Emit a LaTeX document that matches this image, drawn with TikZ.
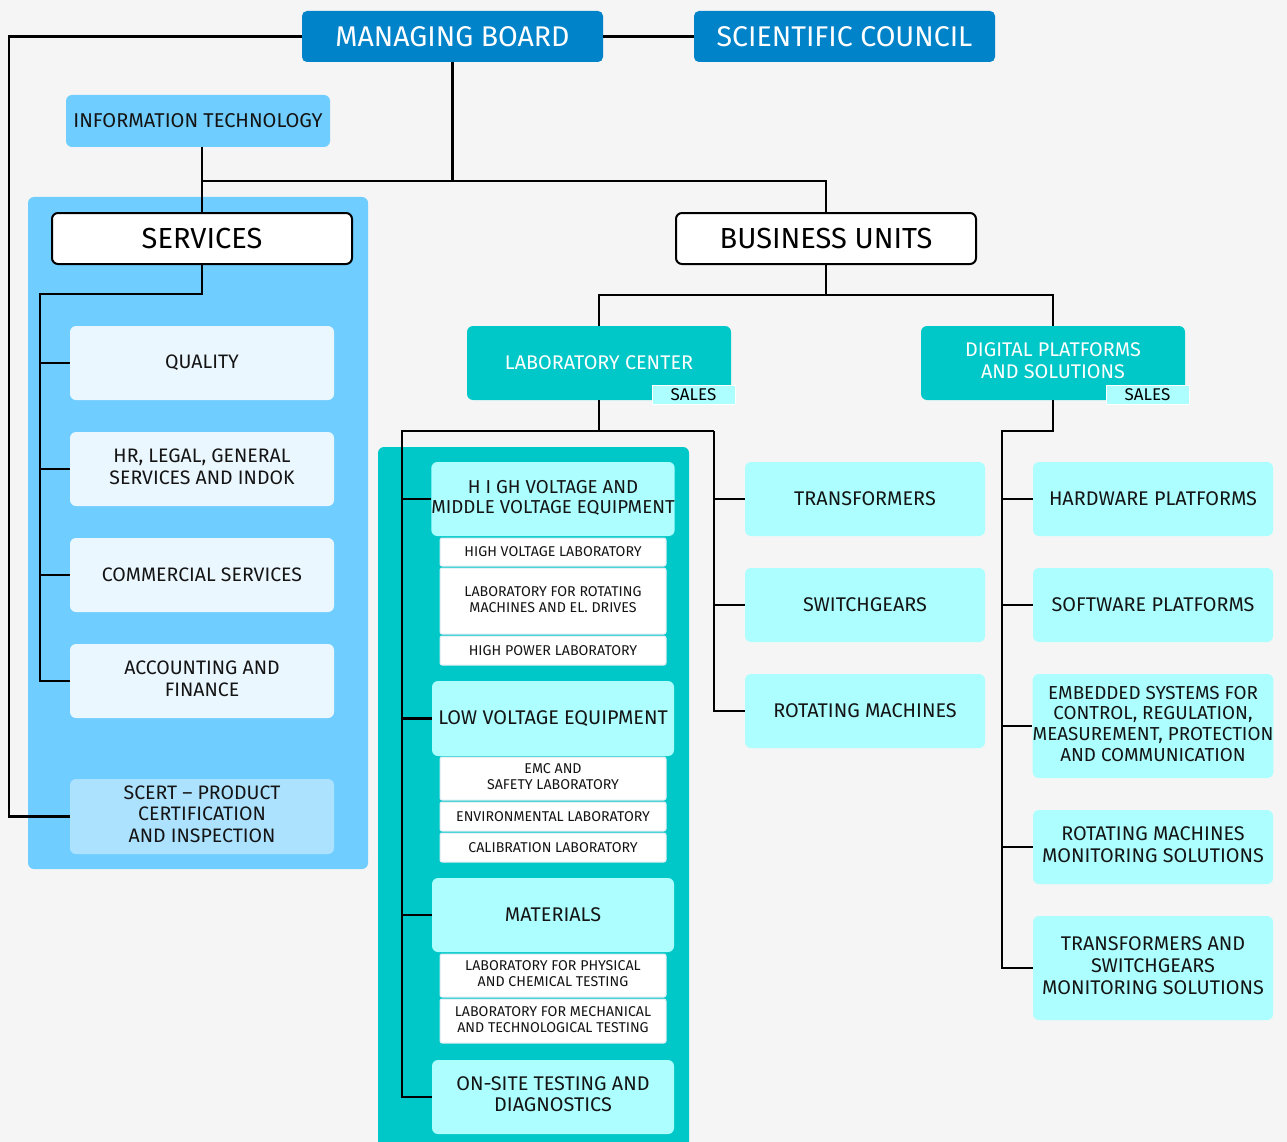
\documentclass[tikz,border=0pt]{standalone}
\usepackage{fontspec}
\setmainfont{Fira Sans}
\usetikzlibrary{positioning}

\definecolor{PageGrey}{HTML}{F5F5F5}
\definecolor{BoardBlue}{HTML}{0083C9}
\definecolor{PanelBlue}{HTML}{70CDFF}
\definecolor{PaleBlue}{HTML}{EBF7FF}
\definecolor{CertBlue}{HTML}{ADE2FF}
\definecolor{LabTeal}{HTML}{00C8C8}
\definecolor{PaleCyan}{HTML}{ADFFFF}
\definecolor{LabEdge}{HTML}{DCEAF2}
\definecolor{InkBlack}{HTML}{141414}

\tikzset
{
  BoardNodeStyle/.style =
  {
    shape = rectangle,
    rounded corners = 5pt,
    fill = BoardBlue,
    text = white,
    inner sep = 0pt,
    minimum width = 301pt,
    minimum height = 51pt,
    font = \fontsize{28.5}{32}\selectfont,
  },
  UnitHeadStyle/.style =
  {
    shape = rectangle,
    rounded corners = 6pt,
    fill = white,
    draw = black,
    line width = 2pt,
    inner sep = 0pt,
    minimum width = 300pt,
    minimum height = 51pt,
    font = \fontsize{29}{32}\selectfont,
  },
  ServiceNodeStyle/.style =
  {
    shape = rectangle,
    rounded corners = 6pt,
    fill = PaleBlue,
    text = InkBlack,
    inner sep = 0pt,
    minimum width = 264pt,
    minimum height = 74pt,
    font = \fontsize{19.5}{21.5}\selectfont,
  },
  LabHeadStyle/.style =
  {
    shape = rectangle,
    rounded corners = 6pt,
    fill = LabTeal,
    text = white,
    inner sep = 0pt,
    minimum width = 264pt,
    minimum height = 74pt,
    font = \fontsize{19.8}{22}\selectfont,
  },
  SalesTagStyle/.style =
  {
    shape = rectangle,
    fill = PaleCyan,
    draw = white,
    line width = 1pt,
    inner sep = 0pt,
    minimum width = 83pt,
    minimum height = 19pt,
    font = \fontsize{17}{18}\selectfont,
  },
  GroupNodeStyle/.style =
  {
    shape = rectangle,
    rounded corners = 6pt,
    fill = PaleCyan,
    text = InkBlack,
    inner sep = 0pt,
    minimum width = 242pt,
    minimum height = 74pt,
    font = \fontsize{19.8}{21}\selectfont,
  },
  UnitNodeStyle/.style =
  {
    GroupNodeStyle,
    minimum width = 240pt,
  },
  LabNodeStyle/.style =
  {
    shape = rectangle,
    rounded corners = 2pt,
    fill = white,
    draw = LabEdge,
    line width = 1pt,
    text = InkBlack,
    inner sep = 0pt,
    minimum width = 226pt,
    font = \fontsize{14.2}{16}\selectfont,
  },
  BranchLine/.style =
  {
    draw = black,
    line width = 2.2pt,
  },
}

\begin{document}
\begin{tikzpicture}[x=1pt, y=-1pt]
  \fill[PageGrey] (0,0) rectangle (1287,1142);
  \useasboundingbox (0,0) rectangle (1287,1142);

  % panels behind the groups
  \fill[PanelBlue, rounded corners=6pt] (28,197) rectangle (368,869);
  \fill[LabTeal] (378,1142) [rounded corners=6pt] -- (378,447) -- (689,447) [sharp corners] -- (689,1142) -- cycle;

  % top level
  \node[BoardNodeStyle] (board) at (452.5,36.5) {MANAGING BOARD};
  \node[BoardNodeStyle] (council) at (844.5,36.5) {SCIENTIFIC COUNCIL};
  \node[ServiceNodeStyle, fill=PanelBlue, minimum height=52pt, font=\fontsize{20}{22}\selectfont] (infotech) at (198,121) {INFORMATION TECHNOLOGY};
  \node[UnitHeadStyle] (services) at (202,238.5) {SERVICES};
  \node[UnitHeadStyle] (business) at (826,238.5) {BUSINESS UNITS};

  % services
  \node[ServiceNodeStyle] (quality) at (202,363) {QUALITY};
  \node[ServiceNodeStyle] (hrlegal) at (202,469) {
    \begin{tabular}{@{}c@{}}
    HR, LEGAL, GENERAL \\
    SERVICES AND INDOK \\
    \end{tabular}
  };
  \node[ServiceNodeStyle] (commercial) at (202,575) {COMMERCIAL SERVICES};
  \node[ServiceNodeStyle] (accounting) at (202,681) {
    \begin{tabular}{@{}c@{}}
    ACCOUNTING AND \\
    FINANCE \\
    \end{tabular}
  };
  \node[ServiceNodeStyle, fill=CertBlue, minimum height=75pt] (scert) at (202,816.5) {
    \begin{tabular}{@{}c@{}}
    SCERT -- PRODUCT \\
    CERTIFICATION \\
    AND INSPECTION \\
    \end{tabular}
  };

  % business units
  \node[LabHeadStyle] (labcenter) at (599,363) {LABORATORY CENTER};
  \node[SalesTagStyle] (labsales) at (693.5,394.5) {SALES};
  \node[LabHeadStyle] (digital) at (1053,363) {
    \begin{tabular}{@{}c@{}}
    DIGITAL PLATFORMS \\
    AND SOLUTIONS \\
    \end{tabular}
  };
  \node[SalesTagStyle] (digsales) at (1147.5,394.5) {SALES};

  % laboratory center
  \node[GroupNodeStyle, font=\fontsize{18.7}{20}\selectfont] (highvolt) at (553,499) {
    \begin{tabular}{@{}c@{}}
    H I GH VOLTAGE AND \\
    MIDDLE VOLTAGE EQUIPMENT \\
    \end{tabular}
  };
  \node[LabNodeStyle, minimum height=28pt] (hvlab) at (553,552) {HIGH VOLTAGE LABORATORY};
  \node[LabNodeStyle, minimum height=66pt] (rotlab) at (553,601) {
    \begin{tabular}{@{}c@{}}
    LABORATORY FOR ROTATING \\
    MACHINES AND EL. DRIVES \\
    \end{tabular}
  };
  \node[LabNodeStyle, minimum height=29pt] (powerlab) at (553,650.5) {HIGH POWER LABORATORY};

  \node[GroupNodeStyle, minimum height=75pt] (lowvolt) at (553,718.5) {LOW VOLTAGE EQUIPMENT};
  \node[LabNodeStyle, minimum height=43pt] (emclab) at (553,778.5) {
    \begin{tabular}{@{}c@{}}
    EMC AND \\
    SAFETY LABORATORY \\
    \end{tabular}
  };
  \node[LabNodeStyle, minimum height=29pt] (envlab) at (553,816.5) {ENVIRONMENTAL LABORATORY};
  \node[LabNodeStyle, minimum height=29pt] (callab) at (553,847.5) {CALIBRATION LABORATORY};

  \node[GroupNodeStyle] (materials) at (553,915) {MATERIALS};
  \node[LabNodeStyle, minimum height=43pt] (physlab) at (553,975.5) {
    \begin{tabular}{@{}c@{}}
    LABORATORY FOR PHYSICAL \\
    AND CHEMICAL TESTING \\
    \end{tabular}
  };
  \node[LabNodeStyle, minimum height=44pt] (mechlab) at (553,1021) {
    \begin{tabular}{@{}c@{}}
    LABORATORY FOR MECHANICAL \\
    AND TECHNOLOGICAL TESTING \\
    \end{tabular}
  };

  \node[GroupNodeStyle] (onsite) at (553,1097) {
    \begin{tabular}{@{}c@{}}
    ON-SITE TESTING AND \\
    DIAGNOSTICS \\
    \end{tabular}
  };

  \node[UnitNodeStyle] (transformers) at (865,499) {TRANSFORMERS};
  \node[UnitNodeStyle] (switchgears) at (865,605) {SWITCHGEARS};
  \node[UnitNodeStyle] (rotating) at (865,711) {ROTATING MACHINES};

  % digital platforms
  \node[UnitNodeStyle] (hardware) at (1153,499) {HARDWARE PLATFORMS};
  \node[UnitNodeStyle] (software) at (1153,605) {SOFTWARE PLATFORMS};
  \node[UnitNodeStyle, minimum height=104pt, font=\fontsize{18.8}{20.7}\selectfont] (embedded) at (1153,726) {
    \begin{tabular}{@{}c@{}}
    EMBEDDED SYSTEMS FOR \\
    CONTROL, REGULATION, \\
    MEASUREMENT, PROTECTION \\
    AND COMMUNICATION \\
    \end{tabular}
  };
  \node[UnitNodeStyle, font=\fontsize{19.8}{22}\selectfont] (rotmonitor) at (1153,847) {
    \begin{tabular}{@{}c@{}}
    ROTATING MACHINES \\
    MONITORING SOLUTIONS \\
    \end{tabular}
  };
  \node[UnitNodeStyle, minimum height=104pt, font=\fontsize{19.8}{22}\selectfont] (tsmonitor) at (1153,968) {
    \begin{tabular}{@{}c@{}}
    TRANSFORMERS AND \\
    SWITCHGEARS \\
    MONITORING SOLUTIONS \\
    \end{tabular}
  };

  % junction points
  \coordinate (leftrail) at (9,36.5);
  \coordinate (hub) at (452.5,181);
  \coordinate (svcrail) at (40,294);
  \coordinate (bujoin) at (826,295);
  \coordinate (lcleft) at (402,431);
  \coordinate (lcright) at (714,431);
  \coordinate (dprail) at (1002,431);

  % connectors
  \draw[BranchLine] (board.east) -- (council.west);
  \draw[BranchLine] (board.west) -- (leftrail) |- (scert.west);
  \draw[BranchLine] (board.south) -- (hub);
  \draw[BranchLine] (infotech.south -| services.north) -- (services.north);
  \draw[BranchLine] (services.north |- hub) -- (hub) -| (business.north);

  \draw[BranchLine] (services.south) |- (svcrail) |- (accounting.west);
  \foreach \n in {quality, hrlegal, commercial}
    \draw[BranchLine] (svcrail |- \n.west) -- (\n.west);

  \draw[BranchLine] (business.south) -- (bujoin);
  \draw[BranchLine] (labcenter.north) |- (bujoin) -| (digital.north);

  \draw[BranchLine] (labcenter.south) -- (labcenter.south |- lcleft);
  \draw[BranchLine] (lcright) -- (lcleft) |- (onsite.west);
  \draw[BranchLine] (lcright) |- (rotating.west);
  \foreach \n in {highvolt, lowvolt, materials}
    \draw[BranchLine] (lcleft |- \n.west) -- (\n.west);
  \foreach \n in {transformers, switchgears}
    \draw[BranchLine] (lcright |- \n.west) -- (\n.west);

  \draw[BranchLine] (digital.south) |- (dprail) |- (tsmonitor.west);
  \foreach \n in {hardware, software, embedded, rotmonitor}
    \draw[BranchLine] (dprail |- \n.west) -- (\n.west);
\end{tikzpicture}
\end{document}
